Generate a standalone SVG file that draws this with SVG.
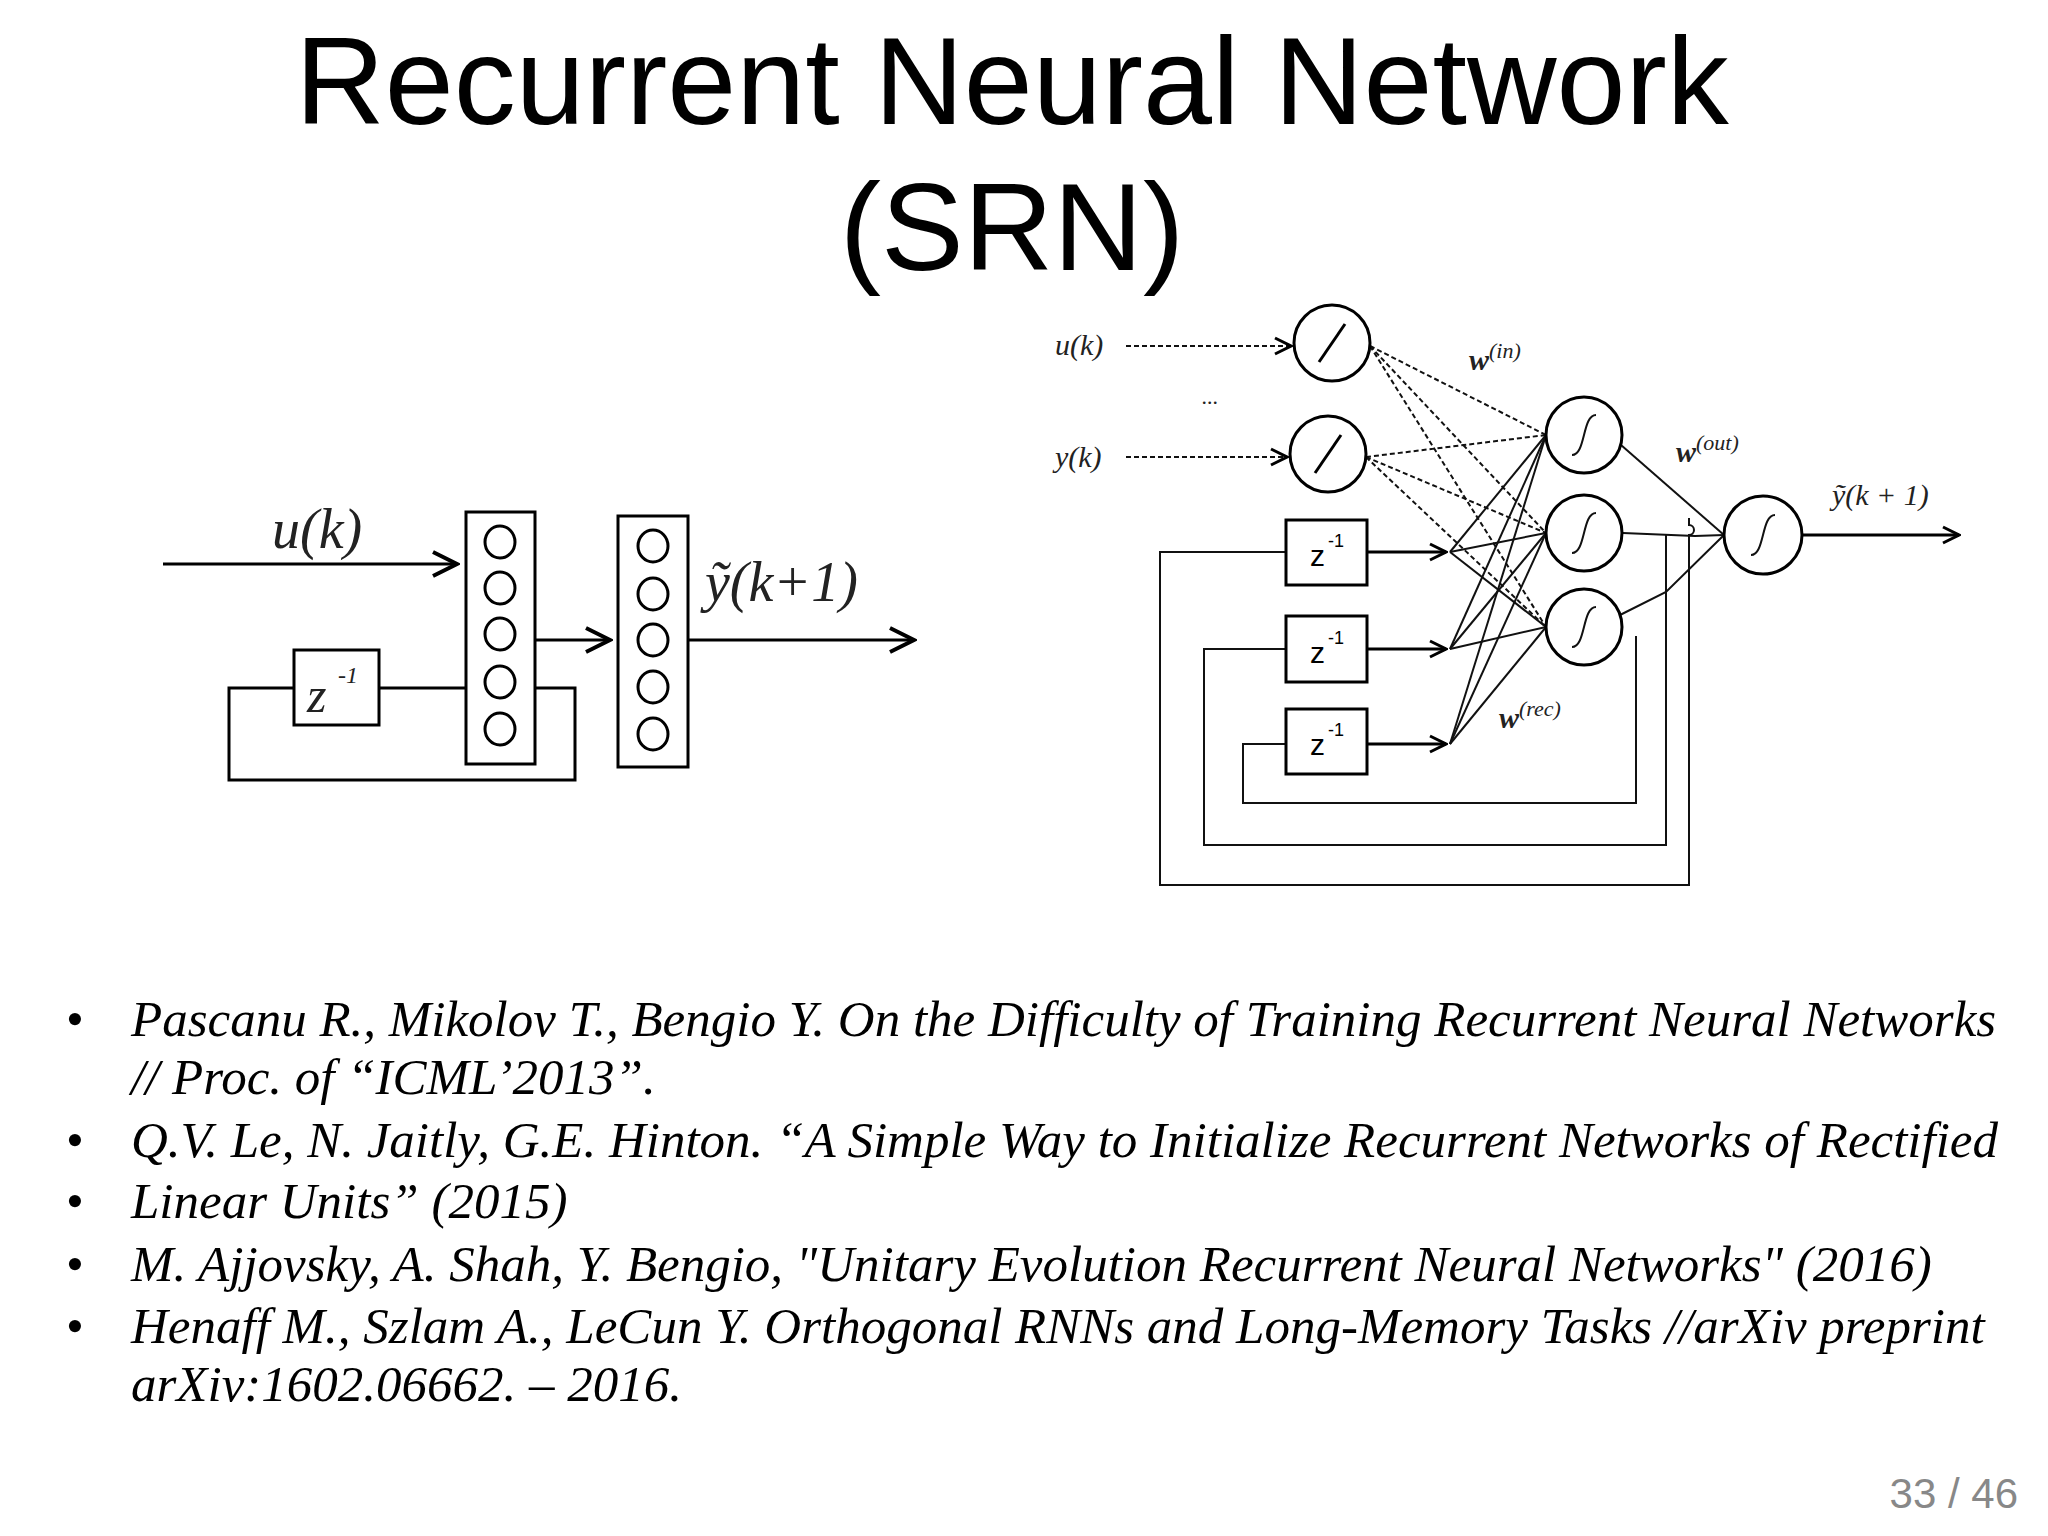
<svg xmlns="http://www.w3.org/2000/svg" width="2048" height="1536" viewBox="0 0 2048 1536">
<style>
.t{font-family:"Liberation Sans",Arial,sans-serif;fill:#000}
.r{font-family:"Liberation Serif","Times New Roman",serif;font-style:italic;fill:#000;font-size:51px}
.m{font-family:"Liberation Serif","Times New Roman",serif;font-style:italic;fill:#222}
.s{fill:none;stroke:#000;stroke-width:3}
.s2{fill:none;stroke:#111;stroke-width:2}
.d{fill:none;stroke:#111;stroke-width:2;stroke-dasharray:5 3}
.c{fill:#fff;stroke:#000;stroke-width:3}
</style>
<defs>
<marker id="a" viewBox="0 0 20 20" refX="18" refY="10" markerWidth="20" markerHeight="20" markerUnits="userSpaceOnUse" orient="auto"><path d="M2,2 L18,10 L2,18" fill="none" stroke="#000" stroke-width="3"/></marker>
<marker id="b" viewBox="0 0 30 30" refX="27" refY="15" markerWidth="30" markerHeight="30" markerUnits="userSpaceOnUse" orient="auto"><path d="M3,3 L27,15 L3,27" fill="none" stroke="#000" stroke-width="4"/></marker>
</defs>
<rect width="2048" height="1536" fill="#fff"/>
<text class="t" x="1012" y="124" font-size="124" text-anchor="middle">Recurrent Neural Network</text>
<text class="t" x="1012" y="270" font-size="124" text-anchor="middle">(SRN)</text>

<!-- left diagram -->
<g id="left-connectors">
<line class="s" x1="163" y1="564" x2="457" y2="564" stroke-width="4" marker-end="url(#b)"/>
<line class="s" x1="535" y1="640" x2="610" y2="640" stroke-width="4" marker-end="url(#b)"/>
<line class="s" x1="688" y1="640" x2="914" y2="640" stroke-width="4" marker-end="url(#b)"/>
<polyline class="s" stroke-width="4" points="535,688 575,688 575,780 229,780 229,688 294,688"/>
<line class="s" stroke-width="4" x1="379" y1="688" x2="466" y2="688"/>
</g>
<g id="left-layer1"><rect class="c" stroke-width="4" x="466" y="512" width="69" height="252"/>
<g class="c" stroke-width="4"><ellipse cx="500" cy="542" rx="15" ry="16"/><ellipse cx="500" cy="588" rx="15" ry="16"/><ellipse cx="500" cy="634" rx="15" ry="16"/><ellipse cx="500" cy="682" rx="15" ry="16"/><ellipse cx="500" cy="729" rx="15" ry="16"/></g></g>
<g id="left-layer2"><rect class="c" stroke-width="4" x="618" y="516" width="70" height="251"/>
<g class="c" stroke-width="4"><ellipse cx="653" cy="546" rx="15" ry="16"/><ellipse cx="653" cy="594" rx="15" ry="16"/><ellipse cx="653" cy="640" rx="15" ry="16"/><ellipse cx="653" cy="687" rx="15" ry="16"/><ellipse cx="653" cy="734" rx="15" ry="16"/></g></g>
<g id="left-z"><rect class="c" stroke-width="4" x="294" y="650" width="85" height="75"/>
<text class="m" x="307" y="712" font-size="50">z</text><text class="m" x="338" y="683" font-size="24">-1</text></g>
<text class="m" x="272" y="548" font-size="56" fill="#333">u(k)</text>
<text class="m" x="705" y="601" font-size="56" fill="#333">ỹ(k+1)</text>

<!-- right diagram -->
<g id="right-connectors">
<line class="d" stroke-width="3" x1="1126" y1="346" x2="1291" y2="346" marker-end="url(#a)"/>
<line class="d" stroke-width="3" x1="1126" y1="457" x2="1287" y2="457" marker-end="url(#a)"/>
<g class="d">
<line x1="1370" y1="346" x2="1546" y2="435"/><line x1="1370" y1="346" x2="1546" y2="533"/><line x1="1370" y1="346" x2="1546" y2="627"/>
<line x1="1366" y1="457" x2="1546" y2="435"/><line x1="1366" y1="457" x2="1546" y2="533"/><line x1="1366" y1="457" x2="1546" y2="627"/>
</g>
<line class="s" x1="1367" y1="552" x2="1446" y2="552" marker-end="url(#a)"/>
<line class="s" x1="1367" y1="649" x2="1446" y2="649" marker-end="url(#a)"/>
<line class="s" x1="1367" y1="744" x2="1446" y2="744" marker-end="url(#a)"/>
<g class="s2">
<line x1="1450" y1="552" x2="1546" y2="435"/><line x1="1450" y1="552" x2="1546" y2="533"/><line x1="1450" y1="552" x2="1546" y2="627"/>
<line x1="1450" y1="649" x2="1546" y2="435"/><line x1="1450" y1="649" x2="1546" y2="533"/><line x1="1450" y1="649" x2="1546" y2="627"/>
<line x1="1450" y1="744" x2="1546" y2="435"/><line x1="1450" y1="744" x2="1546" y2="533"/><line x1="1450" y1="744" x2="1546" y2="627"/>
</g>
<line class="s2" x1="1621" y1="445" x2="1724" y2="535"/>
<polyline class="s2" points="1623,533 1695,536 1724,535"/>
<polyline class="s2" points="1620,615 1666,592 1724,535"/>
<path class="s2" d="M1689,518 L1689,525 a5,5 0 0 1 0,10 L1689,885 L1160,885 L1160,552 L1286,552"/>
<path class="s2" d="M1666,534 L1666,845 L1204,845 L1204,649 L1286,649"/>
<path class="s2" d="M1636,636 L1636,803 L1243,803 L1243,744 L1286,744"/>
<line class="s" x1="1802" y1="535" x2="1959" y2="535" marker-end="url(#a)"/>
</g>
<g id="in1"><circle class="c" cx="1332" cy="343" r="38"/><line class="s" x1="1319" y1="362" x2="1345" y2="324"/></g>
<g id="in2"><circle class="c" cx="1328" cy="454" r="38"/><line class="s" x1="1315" y1="473" x2="1341" y2="435"/></g>
<g id="h1"><circle class="c" cx="1584" cy="435" r="38"/><path class="s2" d="M1572,455 C1586,455 1582,415 1596,415"/></g>
<g id="h2"><circle class="c" cx="1584" cy="533" r="38"/><path class="s2" d="M1572,553 C1586,553 1582,513 1596,513"/></g>
<g id="h3"><circle class="c" cx="1584" cy="627" r="38"/><path class="s2" d="M1572,647 C1586,647 1582,607 1596,607"/></g>
<g id="out"><circle class="c" cx="1763" cy="535" r="39"/><path class="s2" d="M1751,555 C1765,555 1761,515 1775,515"/></g>
<g id="z1"><rect class="c" x="1286" y="520" width="81" height="65"/><text class="t" x="1310" y="566" font-size="30">z</text><text class="t" x="1328" y="547" font-size="18">-1</text></g>
<g id="z2"><rect class="c" x="1286" y="616" width="81" height="66"/><text class="t" x="1310" y="663" font-size="30">z</text><text class="t" x="1328" y="644" font-size="18">-1</text></g>
<g id="z3"><rect class="c" x="1286" y="709" width="81" height="65"/><text class="t" x="1310" y="755" font-size="30">z</text><text class="t" x="1328" y="736" font-size="18">-1</text></g>
<text class="m" x="1055" y="355" font-size="30">u(k)</text>
<text class="m" x="1055" y="467" font-size="30">y(k)</text>
<text class="m" x="1202" y="404" font-size="22">...</text>
<text class="m" x="1469" y="370" font-size="30" font-weight="bold">w<tspan font-size="22" dy="-12" font-weight="normal">(in)</tspan></text>
<text class="m" x="1676" y="462" font-size="30" font-weight="bold">w<tspan font-size="22" dy="-12" font-weight="normal">(out)</tspan></text>
<text class="m" x="1499" y="728" font-size="30" font-weight="bold">w<tspan font-size="22" dy="-12" font-weight="normal">(rec)</tspan></text>
<text class="m" x="1832" y="505" font-size="30">ỹ(k + 1)</text>

<!-- references -->
<g class="r">
<text x="66" y="1036" font-style="normal">•</text><text x="131" y="1036">Pascanu R., Mikolov T., Bengio Y. On the Difficulty of Training Recurrent Neural Networks</text>
<text x="131" y="1094">// Proc. of “ICML’2013”.</text>
<text x="66" y="1157" font-style="normal">•</text><text x="131" y="1157">Q.V. Le, N. Jaitly, G.E. Hinton. “A Simple Way to Initialize Recurrent Networks of Rectified</text>
<text x="66" y="1218" font-style="normal">•</text><text x="131" y="1218">Linear Units” (2015)</text>
<text x="66" y="1281" font-style="normal">•</text><text x="131" y="1281">M. Ajjovsky, A. Shah, Y. Bengio, "Unitary Evolution Recurrent Neural Networks" (2016)</text>
<text x="66" y="1343" font-style="normal">•</text><text x="131" y="1343">Henaff M., Szlam A., LeCun Y. Orthogonal RNNs and Long-Memory Tasks //arXiv preprint</text>
<text x="131" y="1401">arXiv:1602.06662. – 2016.</text>
</g>
<text class="t" x="2018" y="1508" font-size="42" style="fill:#888" text-anchor="end">33 / 46</text>
</svg>
